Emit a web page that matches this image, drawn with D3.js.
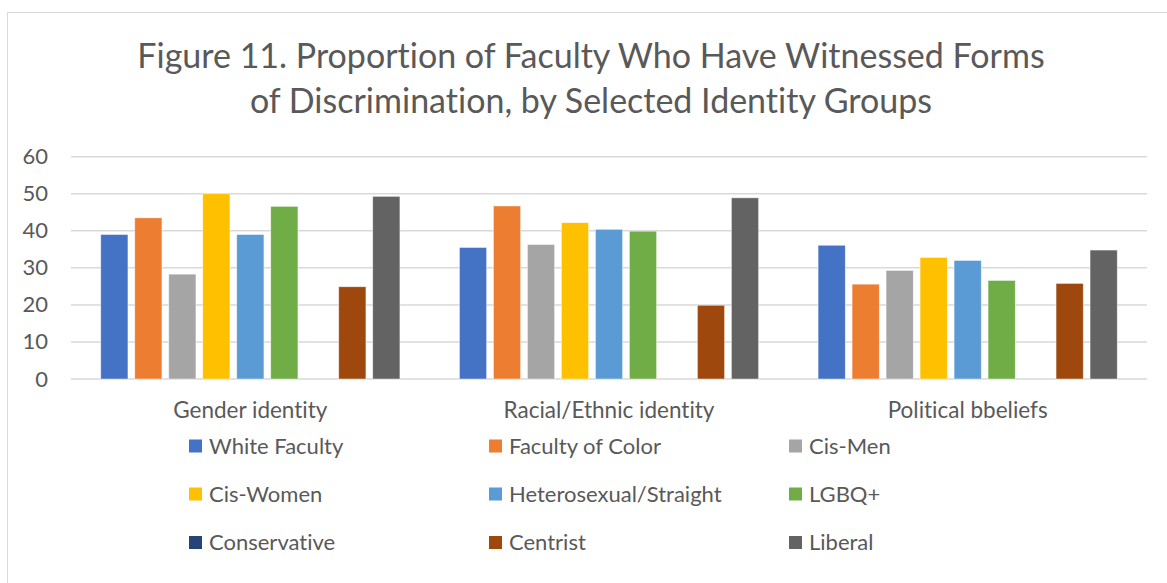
<!DOCTYPE html>
<html>
<head>
<meta charset="utf-8">
<script src="https://cdn.jsdelivr.net/npm/d3@7"></script>
<style>
  body { margin: 0; background: #fff; }
  svg text { font-family: Lato, "Open Sans", sans-serif; fill: #595959; font-variant-ligatures: none; }
</style>
</head>
<body>
<div id="chart"></div>
<script>
// Daten
var categories = ['Gender identity', 'Racial/Ethnic identity', 'Political bbeliefs'];
var seriesNames = ['White Faculty', 'Faculty of Color', 'Cis-Men', 'Cis-Women',
    'Heterosexual/Straight', 'LGBQ+', 'Conservative', 'Centrist', 'Liberal'];
var seriesColors = ['#4472C4', '#ED7D31', '#A5A5A5', '#FFC000',
    '#5B9BD5', '#70AD47', '#264478', '#9E480E', '#636363'];
// Werte pro Serie, in der Reihenfolge der Kategorien
var whiteFaculty   = [39.0, 35.5, 36.1];
var facultyOfColor = [43.5, 46.7, 25.6];
var cisMen         = [28.3, 36.3, 29.3];
var cisWomen       = [50.0, 42.2, 32.8];
var hetero         = [39.0, 40.4, 32.0];
var lgbq           = [46.6, 39.9, 26.6];
var conservative   = [0, 0, 0];
var centrist       = [24.9, 19.9, 25.8];
var liberal        = [49.3, 48.9, 34.8];
var yTicks = [0, 10, 20, 30, 40, 50, 60];
var titleLines = ['Figure 11. Proportion of Faculty Who Have Witnessed Forms',
    'of Discrimination, by Selected Identity Groups'];

var seriesValues = [whiteFaculty, facultyOfColor, cisMen, cisWomen, hetero, lgbq,
    conservative, centrist, liberal];

var width = 1167;
var height = 583;
var plot = {left: 71, right: 1147, top: 156.7, bottom: 379};

var svg = d3.select('#chart').append('svg')
    .attr('width', width)
    .attr('height', height);

// Rahmen des Charts
svg.append('rect')
    .attr('x', 7.5).attr('y', 12.5)
    .attr('width', 1200).attr('height', 700)
    .attr('fill', 'none')
    .attr('stroke', '#D9D9D9')
    .attr('stroke-width', 1);

// Titel
svg.append('g').selectAll('text')
    .data(titleLines)
    .enter().append('text')
    .attr('x', 591)
    .attr('y', function (d, i) { return 68 + i * 45; })
    .attr('text-anchor', 'middle')
    .style('font-size', '34px')
    .text(function (d) { return d; });

// Skalen
var y = d3.scaleLinear().domain([0, 60]).range([plot.bottom, plot.top]);
var x0 = d3.scaleBand().domain(categories).range([plot.left, plot.right]).padding(0);
var x1 = d3.scaleBand().domain(seriesNames).range([0, x0.bandwidth()])
    .paddingInner(0.2).paddingOuter(0.875);

// Gitterlinien
svg.append('g').selectAll('line')
    .data(yTicks)
    .enter().append('line')
    .attr('x1', plot.left).attr('x2', plot.right)
    .attr('y1', function (d) { return y(d); })
    .attr('y2', function (d) { return y(d); })
    .attr('stroke', '#D9D9D9')
    .attr('stroke-width', 1.5);

// Y-Achse Beschriftung
var yAxis = svg.append('g')
    .attr('transform', 'translate(48,0)')
    .call(d3.axisLeft(y).tickValues(yTicks).tickSize(0).tickPadding(0));
yAxis.select('.domain').remove();
yAxis.selectAll('text')
    .style('font-size', '22px')
    .style('font-family', 'Lato, sans-serif')
    .attr('fill', '#595959');

// Balken
var groups = svg.append('g').selectAll('g')
    .data(categories)
    .enter().append('g')
    .attr('transform', function (d) { return 'translate(' + x0(d) + ',0)'; });

groups.selectAll('rect')
    .data(function (d, ci) {
        return seriesNames.map(function (s, si) {
            return {series: s, value: seriesValues[si][ci], color: seriesColors[si]};
        });
    })
    .enter().append('rect')
    .attr('x', function (d) { return x1(d.series); })
    .attr('y', function (d) { return y(d.value); })
    .attr('width', x1.bandwidth())
    .attr('height', function (d) { return y(0) - y(d.value); })
    .attr('fill', function (d) { return d.color; })
    .attr('stroke', '#fff')
    .attr('stroke-opacity', 0.6)
    .attr('stroke-width', 0.75);

// X-Achse Beschriftung
var xAxis = svg.append('g')
    .attr('transform', 'translate(0,' + plot.bottom + ')')
    .call(d3.axisBottom(x0).tickSize(0).tickPadding(0));
xAxis.select('.domain').remove();
xAxis.selectAll('text')
    .attr('dy', '39px')
    .attr('y', 0)
    .style('font-size', '22.5px')
    .style('font-family', 'Lato, sans-serif')
    .attr('fill', '#595959');

// Legende
var legendCols = [189, 489, 789];
var legendRows = [446, 494, 542.5];
var legend = svg.append('g').selectAll('g')
    .data(seriesNames)
    .enter().append('g')
    .attr('transform', function (d, i) {
        return 'translate(' + legendCols[i % 3] + ',' + legendRows[Math.floor(i / 3)] + ')';
    });
legend.append('rect')
    .attr('x', 0).attr('y', -6.5)
    .attr('width', 13).attr('height', 13)
    .attr('fill', function (d, i) { return seriesColors[i]; });
legend.append('text')
    .attr('x', 20)
    .attr('y', 0)
    .attr('dy', '0.35em')
    .style('font-size', '22px')
    .text(function (d) { return d; });
</script>
</body>
</html>
